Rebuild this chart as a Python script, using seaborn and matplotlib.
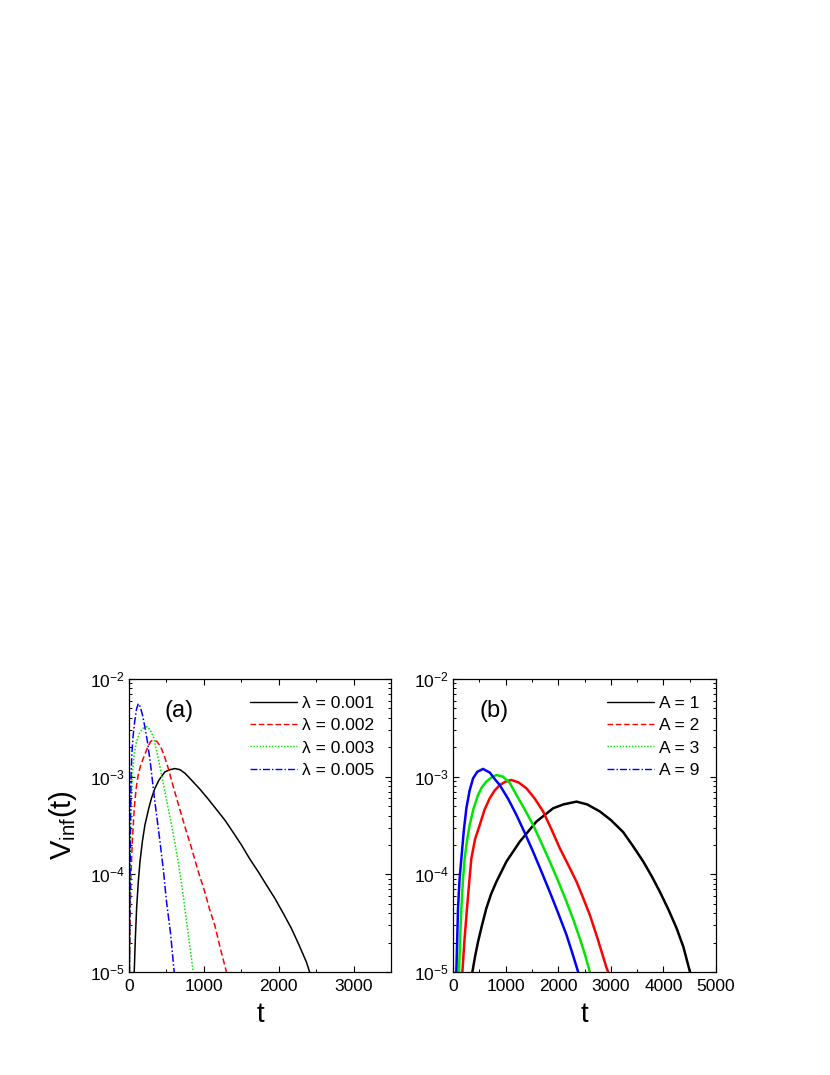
import numpy as np
import pandas as pd
import matplotlib
matplotlib.use("Agg")
import matplotlib.pyplot as plt
import seaborn as sns
from matplotlib.ticker import MultipleLocator, LogLocator, NullFormatter
from matplotlib.lines import Line2D

# ---- panel (a): different lambda ----
a_labels = ["λ = 0.001", "λ = 0.002", "λ = 0.003", "λ = 0.005"]

t_a1 = [70, 85, 102, 125, 147, 180, 213, 260, 300, 347, 400, 480, 550, 613, 680, 750,
        836, 950, 1058, 1170, 1280, 1390, 1502, 1610, 1724, 1835, 1947, 2060, 2169, 2270,
        2369, 2413]
v_a1 = [1e-5, 2.2e-5, 4.5e-5, 8.5e-5, 1.35e-4, 2.2e-4, 3.2e-4, 4.6e-4, 6e-4, 7.6e-4,
        9.2e-4, 1.12e-3, 1.18e-3, 1.21e-3, 1.18e-3, 1.08e-3, 9.2e-4, 7.4e-4, 5.9e-4, 4.6e-4,
        3.6e-4, 2.7e-4, 2e-4, 1.45e-4, 1.07e-4, 7.8e-5, 5.7e-5, 4e-5, 2.8e-5, 1.9e-5,
        1.27e-5, 1e-5]

t_a2 = [5, 15, 27, 44, 71, 95, 124, 155, 191, 250, 290, 324, 370, 420, 470, 524, 600,
        680, 760, 836, 920, 1013, 1080, 1147, 1220, 1302]
v_a2 = [1e-5, 3e-5, 1e-4, 2.15e-4, 4.8e-4, 7.5e-4, 1.05e-3, 1.3e-3, 1.54e-3, 2.0e-3,
        2.3e-3, 2.37e-3, 2.3e-3, 2.05e-3, 1.65e-3, 1.22e-3, 7.5e-4, 4.6e-4, 2.85e-4,
        1.85e-4, 1.1e-4, 6.6e-5, 4.3e-5, 3e-5, 1.75e-5, 1e-5]

t_a3 = [8, 13, 22, 30, 44, 70, 102, 140, 180, 236, 280, 330, 391, 440, 480, 569, 658,
        715, 769, 815, 858]
v_a3 = [1e-5, 1e-4, 3.2e-4, 6e-4, 1.05e-3, 1.7e-3, 2.3e-3, 2.8e-3, 3.1e-3, 3.25e-3,
        3.05e-3, 2.5e-3, 1.54e-3, 1e-3, 7e-4, 3.2e-4, 1.35e-4, 6.8e-5, 3.3e-5, 1.8e-5, 1e-5]

t_a4 = [5, 10, 15, 20, 27, 40, 55, 75, 100, 124, 150, 180, 213, 250, 290, 340, 413, 460,
        502, 555, 604]
v_a4 = [1e-5, 4e-5, 1e-4, 3e-4, 1e-3, 1.8e-3, 2.6e-3, 3.6e-3, 4.9e-3, 5.6e-3, 5.2e-3,
        4.3e-3, 3.2e-3, 2.2e-3, 1.3e-3, 6e-4, 2.2e-4, 1.1e-4, 5.2e-5, 2.5e-5, 1e-5]

# ---- panel (b): different A ----
b_labels = ["A = 1", "A = 2", "A = 3", "A = 9"]

t_b1 = [368, 420, 476, 550, 634, 725, 825, 1015, 1269, 1586, 1904, 2100, 2348, 2550,
        2792, 3000, 3236, 3420, 3617, 3780, 3934, 4100, 4251, 4380, 4505]
v_b1 = [1e-5, 1.45e-5, 2.04e-5, 3e-5, 4.5e-5, 6.3e-5, 8.4e-5, 1.35e-4, 2.16e-4, 3.47e-4,
        4.75e-4, 5.2e-4, 5.55e-4, 5.2e-4, 4.4e-4, 3.6e-4, 2.7e-4, 1.95e-4, 1.35e-4,
        9.5e-5, 6.6e-5, 4.3e-5, 2.8e-5, 1.8e-5, 1e-5]

t_b2 = [178, 220, 266, 305, 349, 420, 508, 600, 698, 790, 888, 1000, 1110, 1250, 1396,
        1550, 1713, 1870, 2030, 2190, 2348, 2470, 2601, 2760, 2919, 2950]
v_b2 = [1e-5, 2.2e-5, 4.5e-5, 8e-5, 1.46e-4, 2.3e-4, 3.2e-4, 4.6e-4, 6e-4, 7.2e-4,
        8.2e-4, 8.9e-4, 9.25e-4, 8.7e-4, 7.6e-4, 6e-4, 4.4e-4, 2.9e-4, 1.85e-4, 1.25e-4,
        8.4e-5, 5.8e-5, 3.84e-5, 2.1e-5, 1.1e-5, 1e-5]

t_b3 = [114, 135, 159, 190, 222, 265, 317, 390, 476, 550, 634, 730, 825, 950, 1080,
        1206, 1365, 1523, 1680, 1840, 2000, 2157, 2290, 2411, 2510, 2601]
v_b3 = [1e-5, 2.2e-5, 4.5e-5, 9e-5, 1.46e-4, 2.2e-4, 3.2e-4, 4.7e-4, 6.5e-4, 7.8e-4,
        8.9e-4, 9.8e-4, 1.04e-3, 1.0e-3, 8.6e-4, 6.5e-4, 4.6e-4, 3.2e-4, 2.1e-4, 1.35e-4,
        8.5e-5, 5.25e-5, 3.4e-5, 2.2e-5, 1.5e-5, 1e-5]

t_b4 = [63, 80, 95, 125, 159, 205, 254, 315, 381, 460, 571, 700, 790, 888, 1050, 1206,
        1365, 1523, 1680, 1840, 2000, 2157, 2270, 2379]
v_b4 = [1e-5, 2.2e-5, 4.5e-5, 9e-5, 1.46e-4, 2.8e-4, 4.75e-4, 7.2e-4, 9.6e-4, 1.12e-3,
        1.2e-3, 1.1e-3, 9.5e-4, 8.2e-4, 5.9e-4, 4.05e-4, 2.65e-4, 1.7e-4, 1.07e-4, 6.6e-5,
        4e-5, 2.4e-5, 1.55e-5, 1e-5]

colors = ["black", "#ff0000", "#00e600", "#0000ff"]
styles = ["-", (0, (4, 2)), (0, (1, 1.2)), (0, (5, 1.5, 1, 1.5))]


def set_style():
    sns.set_style("ticks")
    plt.rcParams.update({
        "font.family": ["Liberation Sans", "DejaVu Sans"],
        "mathtext.fontset": "custom",
        "mathtext.rm": "Liberation Sans",
        "mathtext.it": "Liberation Sans:italic",
        "mathtext.default": "regular",
        "xtick.direction": "in",
        "ytick.direction": "in",
        "axes.linewidth": 0.9,
        "axes.edgecolor": "black",
        "text.color": "black",
        "axes.labelcolor": "black",
        "xtick.color": "black",
        "ytick.color": "black",
        "xtick.labelcolor": "black",
        "ytick.labelcolor": "black",
    })


def draw_panel(ax, series, labels, xmax, xstep, tag, lw, curve_styles):
    for (t, v), c, ls in zip(series, colors, curve_styles):
        df = pd.DataFrame({"t": t, "v": v})
        sns.lineplot(data=df, x="t", y="v", ax=ax, color=c, linestyle=ls,
                     linewidth=lw, sort=False, estimator=None)
    ax.set_yscale("log")
    ax.set_ylim(1e-5, 1e-2)
    ax.set_xlim(0, xmax)
    ax.xaxis.set_major_locator(MultipleLocator(xstep))
    ax.xaxis.set_minor_locator(MultipleLocator(xstep / 2))
    ax.yaxis.set_major_locator(LogLocator(base=10, numticks=10))
    ax.yaxis.set_minor_locator(LogLocator(base=10, subs=np.arange(2, 10), numticks=20))
    ax.yaxis.set_minor_formatter(NullFormatter())
    ax.tick_params(which="both", top=True, right=True, direction="in", color="black")
    ax.tick_params(which="major", length=4, width=0.8)
    ax.tick_params(which="minor", length=2.2, width=0.7)
    ax.tick_params(axis="x", labelsize=12.5, pad=5)
    ax.tick_params(axis="y", labelsize=12.5, pad=3)
    ax.set_xlabel("t", fontsize=20, labelpad=6)
    ax.set_ylabel("")
    ax.text(0.19, 0.89, tag, transform=ax.transAxes, fontsize=17,
            ha="center", va="center")
    handles = [Line2D([], [], color=c, linestyle=ls, linewidth=1.0)
               for c, ls in zip(colors, styles)]
    ax.legend(handles, labels, loc="upper right", frameon=False, fontsize=12.5,
              handlelength=2.7, handletextpad=0.3, labelspacing=0.42,
              borderaxespad=0.45, borderpad=0.5)


set_style()
fig = plt.figure(figsize=(8.3, 10.75), dpi=100)
ax_a = fig.add_axes([0.1554, 0.0958, 0.3157, 0.2726])
ax_b = fig.add_axes([0.5458, 0.0958, 0.3169, 0.2726])

draw_panel(ax_a, [(t_a1, v_a1), (t_a2, v_a2), (t_a3, v_a3), (t_a4, v_a4)],
           a_labels, 3500, 1000, "(a)", 1.1, styles)
# dense noisy curves in (b) render as nearly solid lines
draw_panel(ax_b, [(t_b1, v_b1), (t_b2, v_b2), (t_b3, v_b3), (t_b4, v_b4)],
           b_labels, 5000, 1000, "(b)", 1.8, ["-"] * 4)
ax_b.texts[0].set_x(0.155)

ax_a.set_ylabel(r"V$_{\rm inf}$(t)", fontsize=21, labelpad=8)

fig.savefig("out.png", dpi=100)
